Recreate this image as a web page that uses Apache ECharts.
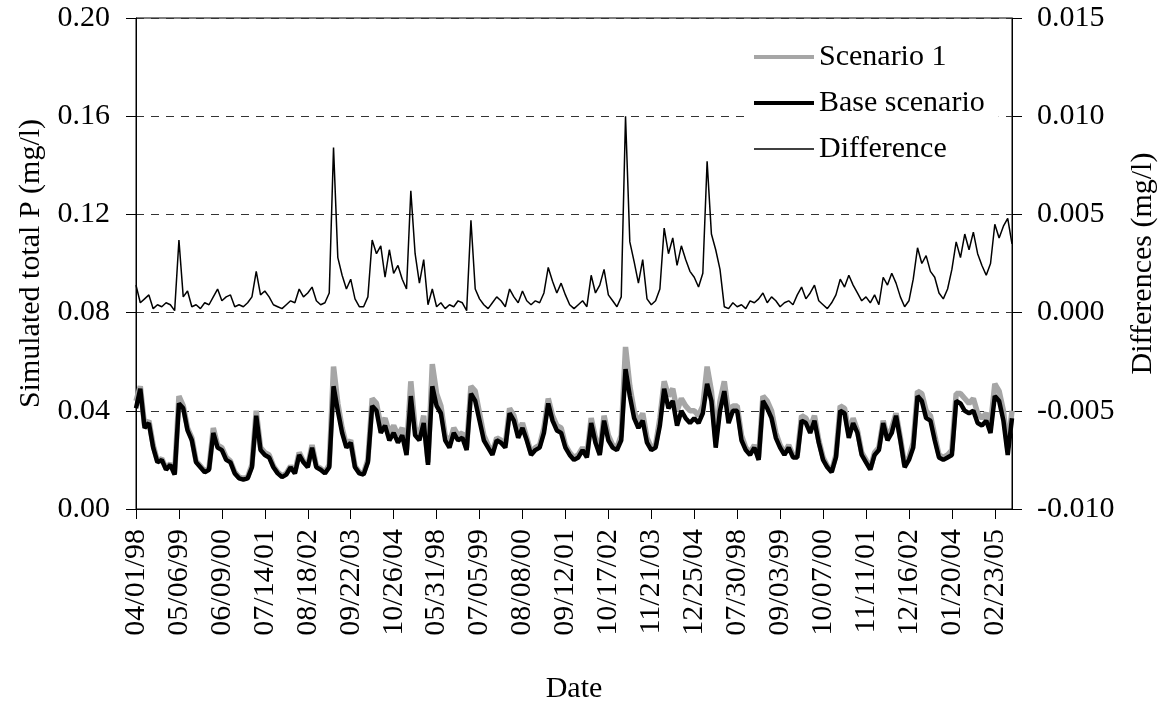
<!DOCTYPE html>
<html>
<head>
<meta charset="utf-8">
<title>Simulated total P</title>
<script src="https://cdn.jsdelivr.net/npm/echarts@6/dist/echarts.min.js"></script>
<style>
html, body { margin: 0; padding: 0; background: #fff; }
#chart { width: 1168px; height: 714px; }
</style>
</head>
<body>
<div id="chart"></div>
<script>
var tickLabels = ['04/01/98', '05/06/99', '06/09/00', '07/14/01', '08/18/02', '09/22/03', '10/26/04',
    '05/31/98', '07/05/99', '08/08/00', '09/12/01', '10/17/02', '11/21/03', '12/25/04',
    '07/30/98', '09/03/99', '10/07/00', '11/11/01', '12/16/02', '01/20/04', '02/23/05'];

// total P, mg/l (left axis)
var scenario1 = [
    0.044, 0.050, 0.034, 0.036, 0.026, 0.0195, 0.0205, 0.0165, 0.0185, 0.0145,
    0.046, 0.042, 0.033, 0.029, 0.0195, 0.0175, 0.0155, 0.0165, 0.033, 0.026,
    0.025, 0.021, 0.0195, 0.015, 0.013, 0.0125, 0.013, 0.018, 0.040, 0.025,
    0.023, 0.022, 0.0175, 0.015, 0.0135, 0.0145, 0.0175, 0.015, 0.023, 0.0195,
    0.0175, 0.026, 0.0175, 0.0165, 0.015, 0.018, 0.058, 0.043, 0.033, 0.026,
    0.028, 0.0175, 0.015, 0.0145, 0.020, 0.045, 0.043, 0.034, 0.037, 0.031,
    0.034, 0.030, 0.033, 0.024, 0.052, 0.033, 0.030, 0.038, 0.019, 0.059,
    0.047, 0.042, 0.030, 0.027, 0.033, 0.030, 0.031, 0.025, 0.050, 0.048,
    0.039, 0.030, 0.026, 0.023, 0.029, 0.028, 0.026, 0.041, 0.038, 0.031,
    0.035, 0.029, 0.023, 0.025, 0.026, 0.033, 0.045, 0.038, 0.034, 0.033,
    0.026, 0.023, 0.021, 0.022, 0.025, 0.022, 0.037, 0.029, 0.023, 0.038,
    0.030, 0.026, 0.025, 0.030, 0.066, 0.050, 0.040, 0.035, 0.039, 0.029,
    0.025, 0.026, 0.037, 0.052, 0.046, 0.049, 0.040, 0.045, 0.042, 0.040,
    0.040, 0.038, 0.042, 0.058, 0.048, 0.029, 0.044, 0.052, 0.039, 0.042,
    0.042, 0.030, 0.025, 0.023, 0.026, 0.021, 0.046, 0.044, 0.040, 0.031,
    0.026, 0.023, 0.026, 0.022, 0.022, 0.038, 0.037, 0.033, 0.038, 0.028,
    0.021, 0.0175, 0.0155, 0.022, 0.042, 0.041, 0.031, 0.037, 0.032, 0.023,
    0.020, 0.0165, 0.023, 0.025, 0.036, 0.029, 0.033, 0.039, 0.029, 0.018,
    0.021, 0.027, 0.048, 0.047, 0.040, 0.038, 0.030, 0.022, 0.021, 0.022,
    0.024, 0.047, 0.047, 0.045, 0.043, 0.045, 0.039, 0.037, 0.039, 0.034,
    0.051, 0.048, 0.040, 0.025, 0.040
];

var baseScenario = [
    0.041, 0.049, 0.033, 0.035, 0.025, 0.019, 0.020, 0.016, 0.018, 0.014,
    0.043, 0.041, 0.032, 0.028, 0.019, 0.017, 0.015, 0.016, 0.031, 0.025,
    0.024, 0.020, 0.019, 0.0145, 0.0125, 0.012, 0.0125, 0.017, 0.038, 0.024,
    0.022, 0.021, 0.017, 0.0145, 0.013, 0.014, 0.017, 0.0145, 0.022, 0.019,
    0.017, 0.025, 0.017, 0.016, 0.0145, 0.017, 0.050, 0.040, 0.031, 0.025,
    0.027, 0.017, 0.0145, 0.014, 0.019, 0.042, 0.040, 0.031, 0.034, 0.028,
    0.031, 0.027, 0.030, 0.022, 0.046, 0.030, 0.028, 0.035, 0.018, 0.050,
    0.042, 0.039, 0.028, 0.025, 0.031, 0.028, 0.029, 0.024, 0.047, 0.044,
    0.036, 0.028, 0.025, 0.022, 0.028, 0.027, 0.025, 0.039, 0.036, 0.029,
    0.033, 0.028, 0.022, 0.024, 0.025, 0.031, 0.043, 0.036, 0.032, 0.031,
    0.025, 0.022, 0.020, 0.021, 0.024, 0.021, 0.035, 0.027, 0.022, 0.036,
    0.028, 0.025, 0.024, 0.028, 0.057, 0.046, 0.037, 0.033, 0.036, 0.027,
    0.024, 0.025, 0.034, 0.049, 0.041, 0.044, 0.034, 0.040, 0.037, 0.035,
    0.037, 0.035, 0.039, 0.051, 0.044, 0.025, 0.040, 0.048, 0.035, 0.040,
    0.040, 0.028, 0.024, 0.022, 0.025, 0.020, 0.044, 0.041, 0.037, 0.029,
    0.025, 0.022, 0.025, 0.021, 0.021, 0.036, 0.035, 0.031, 0.036, 0.027,
    0.020, 0.017, 0.015, 0.021, 0.040, 0.039, 0.029, 0.035, 0.031, 0.022,
    0.019, 0.016, 0.022, 0.024, 0.035, 0.028, 0.031, 0.038, 0.028, 0.017,
    0.020, 0.025, 0.046, 0.044, 0.037, 0.036, 0.028, 0.021, 0.020, 0.021,
    0.022, 0.044, 0.043, 0.040, 0.039, 0.040, 0.035, 0.034, 0.036, 0.031,
    0.046, 0.044, 0.036, 0.022, 0.037
];

// differences, mg/l (right axis)
var difference = [
    0.0014, 0.0005, 0.0007, 0.0009, 0.0002, 0.0004, 0.0003, 0.0005, 0.0004, 0.0001,
    0.0037, 0.0008, 0.0011, 0.0003, 0.0004, 0.0002, 0.0005, 0.0004, 0.0008, 0.0012,
    0.0006, 0.0008, 0.0009, 0.0003, 0.0004, 0.0003, 0.0005, 0.0008, 0.0021, 0.0009,
    0.0011, 0.0008, 0.0004, 0.0003, 0.0002, 0.0004, 0.0006, 0.0005, 0.0012, 0.0008,
    0.0010, 0.0013, 0.0006, 0.0004, 0.0005, 0.0010, 0.0084, 0.0028, 0.0019, 0.0012,
    0.0017, 0.0007, 0.0003, 0.0003, 0.0008, 0.0037, 0.0030, 0.0034, 0.0018, 0.0032,
    0.0020, 0.0024, 0.0017, 0.0012, 0.0062, 0.0030, 0.0015, 0.0027, 0.0004, 0.0012,
    0.0003, 0.0005, 0.0002, 0.0004, 0.0003, 0.0006, 0.0005, 0.0001, 0.0047, 0.0012,
    0.0007, 0.0004, 0.0002, 0.0005, 0.0008, 0.0006, 0.0003, 0.0012, 0.0008, 0.0005,
    0.0011, 0.0006, 0.0004, 0.0006, 0.0005, 0.0010, 0.0023, 0.0016, 0.0010, 0.0015,
    0.0009, 0.0004, 0.0002, 0.0004, 0.0006, 0.0003, 0.0019, 0.0010, 0.0014, 0.0022,
    0.0009, 0.0006, 0.0003, 0.0008, 0.0100, 0.0036, 0.0026, 0.0015, 0.0027, 0.0007,
    0.0004, 0.0006, 0.0012, 0.0043, 0.0030, 0.0038, 0.0024, 0.0034, 0.0027, 0.0021,
    0.0018, 0.0013, 0.0020, 0.0077, 0.0040, 0.0032, 0.0022, 0.0003, 0.0002, 0.0005,
    0.0003, 0.0004, 0.0002, 0.0006, 0.0005, 0.0007, 0.0010, 0.0005, 0.0008, 0.0006,
    0.0003, 0.0005, 0.0006, 0.0004, 0.0009, 0.0013, 0.0007, 0.0010, 0.0014, 0.0006,
    0.0004, 0.0002, 0.0005, 0.0009, 0.0017, 0.0013, 0.0019, 0.0014, 0.0010, 0.0006,
    0.0008, 0.0005, 0.0009, 0.0004, 0.0018, 0.0014, 0.0020, 0.0015, 0.0008, 0.0003,
    0.0006, 0.0017, 0.0033, 0.0025, 0.0029, 0.0021, 0.0018, 0.0010, 0.0007, 0.0012,
    0.0022, 0.0036, 0.0028, 0.0040, 0.0032, 0.0041, 0.0030, 0.0024, 0.0019, 0.0025,
    0.0045, 0.0038, 0.0044, 0.0048, 0.0035
];

var days = baseScenario.map(function (v, i) { return String(i); });

var font = 'Liberation Serif';
var txt = { fontFamily: font, fontSize: 30, color: '#000' };

var chart = echarts.init(document.getElementById('chart'));
chart.setOption({
    animation: false,
    backgroundColor: '#fff',
    grid: {
        left: 136,
        right: 156,
        top: 18,
        bottom: 205,
        show: true,
        borderColor: '#000',
        borderWidth: 1
    },
    legend: {
        orient: 'vertical',
        left: 750,
        top: 40,
        itemWidth: 60,
        itemHeight: 14,
        itemGap: 16,
        padding: [2, 14, 2, 2],
        backgroundColor: '#fff',
        itemStyle: { opacity: 0 },
        textStyle: { fontFamily: font, fontSize: 30, color: '#000' },
        data: [
            { name: 'Scenario 1', lineStyle: { color: '#a6a6a6', width: 4 } },
            { name: 'Base scenario', lineStyle: { color: '#000', width: 4 } },
            { name: 'Difference', lineStyle: { color: '#000', width: 1.5 } }
        ]
    },
    xAxis: {
        type: 'category',
        data: days,
        boundaryGap: false,
        name: 'Date',
        nameLocation: 'middle',
        nameGap: 165,
        nameTextStyle: txt,
        axisLine: { lineStyle: { color: '#000', width: 1 } },
        axisTick: { interval: 9, length: 10, lineStyle: { color: '#000' } },
        axisLabel: {
            interval: 9,
            rotate: 90,
            margin: 20,
            fontFamily: font,
            fontSize: 30,
            color: '#000',
            formatter: function (v) {
                return tickLabels[Number(v) / 10] || '';
            }
        },
        splitLine: { show: false }
    },
    yAxis: [
        {
            type: 'value',
            position: 'left',
            min: 0,
            max: 0.2,
            interval: 0.04,
            name: 'Simulated total P (mg/l)',
            nameLocation: 'middle',
            nameRotate: 90,
            nameGap: 90,
            nameTextStyle: txt,
            axisLine: { show: true, lineStyle: { color: '#000' } },
            axisTick: { show: true, length: 10, lineStyle: { color: '#000' } },
            axisLabel: {
                margin: 26,
                fontFamily: font,
                fontSize: 30,
                color: '#000',
                formatter: function (v) { return v.toFixed(2); }
            },
            splitLine: { show: true, lineStyle: { color: '#333', type: [8, 7], width: 1 } }
        },
        {
            type: 'value',
            position: 'right',
            min: -0.01,
            max: 0.015,
            interval: 0.005,
            name: 'Differences (mg/l)',
            nameLocation: 'middle',
            nameRotate: 90,
            nameGap: 116,
            nameTextStyle: txt,
            axisLine: { show: true, lineStyle: { color: '#000' } },
            axisTick: { show: true, length: 10, lineStyle: { color: '#000' } },
            axisLabel: {
                margin: 25,
                fontFamily: font,
                fontSize: 30,
                color: '#000',
                formatter: function (v) {
                    return Math.abs(v) < 1e-9 ? '0.000' : v.toFixed(3);
                }
            },
            splitLine: { show: false }
        }
    ],
    series: [
        {
            name: 'Scenario 1',
            type: 'line',
            yAxisIndex: 0,
            data: scenario1,
            symbol: 'none',
            lineStyle: { color: '#a6a6a6', width: 5.5 },
            itemStyle: { color: '#a6a6a6' },
            z: 2
        },
        {
            name: 'Base scenario',
            type: 'line',
            yAxisIndex: 0,
            data: baseScenario,
            symbol: 'none',
            lineStyle: { color: '#000', width: 4.5 },
            itemStyle: { color: '#000' },
            z: 3
        },
        {
            name: 'Difference',
            type: 'line',
            yAxisIndex: 1,
            data: difference,
            symbol: 'none',
            lineStyle: { color: '#000', width: 1.5 },
            itemStyle: { color: '#000' },
            z: 4
        }
    ]
});
</script>
</body>
</html>
